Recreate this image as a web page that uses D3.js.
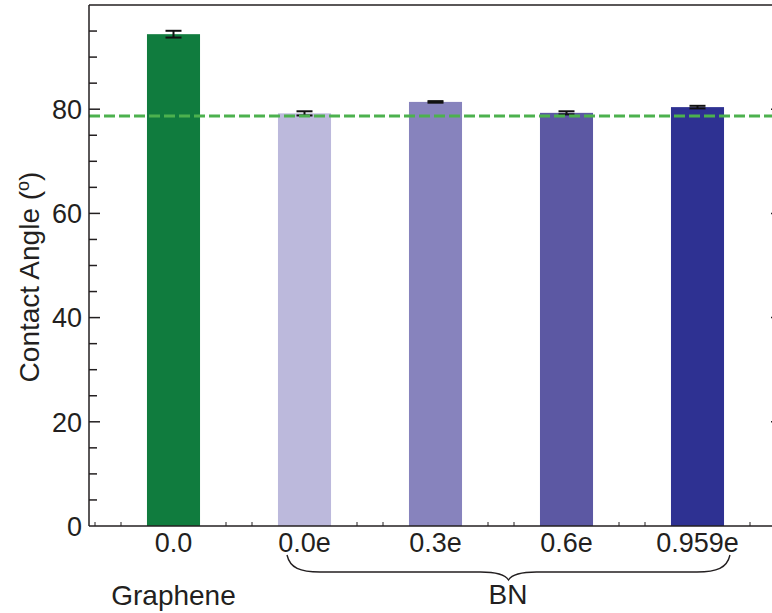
<!DOCTYPE html>
<html>
<head>
<meta charset="utf-8">
<script src="https://cdn.jsdelivr.net/npm/d3@7"></script>
<style>
  body { margin: 0; background: #fff; }
  text { font-family: "Liberation Sans", Arial, Helvetica, sans-serif; fill: #231f20; }
</style>
</head>
<body>
<script>
// data
var categories = ["0.0", "0.0e", "0.3e", "0.6e", "0.959e"];
var angles = [94.4, 79.2, 81.4, 79.3, 80.4];
var errors = [0.65, 0.4, 0.15, 0.3, 0.25];
var barColors = ["#107c3e", "#bcb9dc", "#8783bd", "#5c58a3", "#2e3192"];
var refAngle = 78.7;
var yTicks = [0, 20, 40, 60, 80];

var width = 772, height = 613;
var pLeft = 89, pTop = 5, pBottom = 526, pRight = 782;

var svg = d3.select("body")
  .append("svg")
    .attr("width", width)
    .attr("height", height);

var x = d3.scaleBand()
  .domain(categories)
  .range([108, 763])
  .paddingInner(0.595)
  .paddingOuter(0.2975);

var y = d3.scaleLinear()
  .domain([0, 100])
  .range([pBottom, pTop]);

var ink = "#231f20";

// bars
svg.selectAll("rect.bar")
  .data(categories)
  .enter().append("rect")
    .attr("class", "bar")
    .attr("x", function(d) { return x(d); })
    .attr("width", x.bandwidth())
    .attr("y", function(d, i) { return y(angles[i]); })
    .attr("height", function(d, i) { return y(0) - y(angles[i]); })
    .attr("fill", function(d, i) { return barColors[i]; });

// error bars
var eb = svg.selectAll("g.err")
  .data(categories)
  .enter().append("g")
    .attr("class", "err")
    .attr("stroke", "#111")
    .attr("stroke-width", 2);
eb.append("line")
  .attr("x1", function(d) { return x(d) + x.bandwidth() / 2; })
  .attr("x2", function(d) { return x(d) + x.bandwidth() / 2; })
  .attr("y1", function(d, i) { return y(angles[i] - errors[i]); })
  .attr("y2", function(d, i) { return y(angles[i] + errors[i]); });
[-1, 1].forEach(function(s) {
  eb.append("line")
    .attr("x1", function(d) { return x(d) + x.bandwidth() / 2 - 8; })
    .attr("x2", function(d) { return x(d) + x.bandwidth() / 2 + 8; })
    .attr("y1", function(d, i) { return y(angles[i] + s * errors[i]); })
    .attr("y2", function(d, i) { return y(angles[i] + s * errors[i]); });
});

// reference dashed line
svg.append("line")
  .attr("x1", pLeft).attr("x2", width)
  .attr("y1", y(refAngle)).attr("y2", y(refAngle))
  .attr("stroke", "#4cb14e")
  .attr("stroke-width", 3)
  .attr("stroke-dasharray", "11,4");

// frame
var frame = svg.append("g").attr("stroke", ink).attr("stroke-width", 1.5).attr("fill", "none");
frame.append("line").attr("x1", pLeft).attr("x2", pLeft).attr("y1", pTop).attr("y2", pBottom);
frame.append("line").attr("x1", pLeft).attr("x2", pRight).attr("y1", pBottom).attr("y2", pBottom);
frame.append("line").attr("x1", pLeft).attr("x2", pRight).attr("y1", pTop).attr("y2", pTop);
frame.append("line").attr("x1", pRight).attr("x2", pRight).attr("y1", pTop).attr("y2", pBottom);

// left axis: major ticks with labels, minor ticks every 5
var minor = d3.range(5, 100, 5).filter(function(v) { return v % 20 !== 0; });
frame.selectAll("line.minor")
  .data(minor)
  .enter().append("line")
    .attr("x1", pLeft).attr("x2", pLeft + 8)
    .attr("y1", function(d) { return y(d); })
    .attr("y2", function(d) { return y(d); });
frame.selectAll("line.major")
  .data(yTicks.slice(1))
  .enter().append("line")
    .attr("x1", pLeft).attr("x2", pLeft + 11)
    .attr("y1", function(d) { return y(d); })
    .attr("y2", function(d) { return y(d); });
// right axis (mirror)
frame.selectAll("line.rmajor")
  .data(yTicks.slice(1))
  .enter().append("line")
    .attr("x1", pRight - 11).attr("x2", pRight)
    .attr("y1", function(d) { return y(d); })
    .attr("y2", function(d) { return y(d); });

svg.selectAll("text.ytick")
  .data(yTicks)
  .enter().append("text")
    .attr("x", pLeft - 7)
    .attr("y", function(d) { return y(d); })
    .attr("dy", "0.36em")
    .attr("text-anchor", "end")
    .attr("font-size", 27)
    .text(function(d) { return d; });

// small x ticks either side of band boundaries
var step = x.step();
var xMinor = [];
categories.forEach(function(c, i) {
  var b = x(c) + x.bandwidth() / 2 - step / 2;
  xMinor.push(b - 13, b + 13);
  if (i === categories.length - 1) xMinor.push(b + step - 13, b + step + 13);
});
frame.selectAll("line.xminor")
  .data(xMinor)
  .enter().append("line")
    .attr("stroke-width", 1)
    .attr("x1", function(d) { return d; })
    .attr("x2", function(d) { return d; })
    .attr("y1", pBottom).attr("y2", pBottom - 4);

// x labels
svg.selectAll("text.xtick")
  .data(categories)
  .enter().append("text")
    .attr("x", function(d) { return x(d) + x.bandwidth() / 2; })
    .attr("y", 552)
    .attr("text-anchor", "middle")
    .attr("font-size", 27)
    .text(function(d) { return d; });

svg.append("text")
  .attr("x", x("0.0") + x.bandwidth() / 2)
  .attr("y", 605)
  .attr("text-anchor", "middle")
  .attr("font-size", 28)
  .text("Graphene");

svg.append("text")
  .attr("x", 508)
  .attr("y", 604)
  .attr("text-anchor", "middle")
  .attr("font-size", 28)
  .text("BN");

// brace under the BN group
var bx0 = 287, bx1 = 730, bm = (bx0 + bx1) / 2;
svg.append("path")
  .attr("fill", "none")
  .attr("stroke", ink)
  .attr("stroke-width", 1.4)
  .attr("d", "M" + bx0 + ",555 C" + (bx0 + 3) + ",568 " + (bx0 + 13) + ",572 " + (bx0 + 33) + ",572" +
    " L" + (bm - 28) + ",572 C" + (bm - 10) + ",572 " + (bm - 3) + ",575 " + bm + ",580" +
    " C" + (bm + 3) + ",575 " + (bm + 10) + ",572 " + (bm + 28) + ",572" +
    " L" + (bx1 - 33) + ",572 C" + (bx1 - 13) + ",572 " + (bx1 - 3) + ",568 " + bx1 + ",555");

// y title
var yt = svg.append("text")
  .attr("transform", "translate(39,277) rotate(-90)")
  .attr("text-anchor", "middle")
  .attr("font-size", 28);
yt.append("tspan").text("Contact Angle (");
yt.append("tspan").attr("font-size", 18).attr("dy", -10).text("o");
yt.append("tspan").attr("dy", 10).text(")");
</script>
</body>
</html>
